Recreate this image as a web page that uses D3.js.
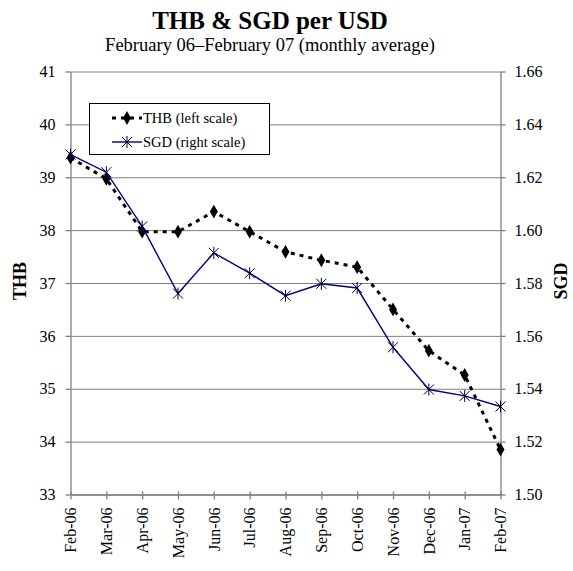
<!DOCTYPE html>
<html><head><meta charset="utf-8">
<script src="https://cdn.jsdelivr.net/npm/d3@7/dist/d3.min.js"></script>
<style>
body{margin:0;background:#fff;}
svg text{font-family:"Liberation Serif","Times New Roman",serif;fill:#000;}
</style></head>
<body><svg id="c" width="573" height="571" font-family="Liberation Serif, serif"></svg>
<script>
const months = ["Feb-06","Mar-06","Apr-06","May-06","Jun-06","Jul-06","Aug-06","Sep-06","Oct-06","Nov-06","Dec-06","Jan-07","Feb-07"];
const thb = [39.37,38.97,37.97,37.97,38.35,37.97,37.59,37.43,37.30,36.50,35.72,35.26,33.85];
const sgd = [1.6286,1.6219,1.6014,1.5760,1.5914,1.5837,1.5752,1.5797,1.5781,1.5557,1.5397,1.5373,1.5333];
const thbTicks = [33,34,35,36,37,38,39,40,41];
const sgdTicks = [1.50,1.52,1.54,1.56,1.58,1.60,1.62,1.64,1.66];

const svg = d3.select("#c");
const L=70.5, R=500.5, T=71.5, B=494.5;
const x = d3.scalePoint().domain(months).range([L,R]);
const yL = d3.scaleLinear().domain([33,41]).range([B,T]);
const yR = d3.scaleLinear().domain([1.50,1.66]).range([B,T]);

// title
svg.append("text").attr("x",270).attr("y",29).attr("text-anchor","middle")
  .style("font-size","25px").style("font-weight","bold").text("THB & SGD per USD");
svg.append("text").attr("x",270).attr("y",51).attr("text-anchor","middle")
  .style("font-size","18.5px").text("February 06\u2013February 07 (monthly average)");

// gridlines
const grid = svg.append("g").attr("transform",`translate(${L},0)`)
  .call(d3.axisLeft(yL).tickValues(thbTicks).tickSize(-(R-L)).tickFormat(""));
grid.select(".domain").remove();
grid.selectAll("line").attr("stroke","#808080").attr("stroke-width",1);

// axes
function style(g){
  g.attr("font-family",null).attr("font-size",null);
  g.select(".domain").attr("stroke","#808080").attr("stroke-width",1.3);
  g.selectAll(".tick line").attr("stroke","#808080").attr("stroke-width",1.3);
  g.selectAll("text").style("font-size","16px").attr("fill","#000");
}
const ax = svg.append("g").attr("transform",`translate(${L},0)`)
  .call(d3.axisLeft(yL).tickValues(thbTicks).tickSize(5).tickSizeOuter(0).tickPadding(10).tickFormat(d3.format("d")));
style(ax);
const ar = svg.append("g").attr("transform",`translate(${R},0)`)
  .call(d3.axisRight(yR).tickValues(sgdTicks).tickSize(5).tickSizeOuter(0).tickPadding(9).tickFormat(d3.format(".2f")));
style(ar);
const ab = svg.append("g").attr("transform",`translate(0,${B})`)
  .call(d3.axisBottom(x).tickSize(5).tickSizeOuter(0));
style(ab);
ab.selectAll(".tick line").attr("y1",-3);
ab.selectAll("text").attr("transform","rotate(-90)").attr("text-anchor","end")
  .attr("x",-13).attr("y",0).attr("dy","0.33em");

// axis titles
svg.append("text").attr("transform","translate(26,281) rotate(-90)").attr("text-anchor","middle")
  .style("font-size","18px").style("font-weight","bold").text("THB");
svg.append("text").attr("transform","translate(567,281) rotate(-90)").attr("text-anchor","middle")
  .style("font-size","18px").style("font-weight","bold").text("SGD");

// THB series
const lineL = d3.line().x((d,i)=>x(months[i])).y(d=>yL(d));
svg.append("path").datum(thb).attr("d",lineL).attr("fill","none")
  .attr("stroke","#000").attr("stroke-width",3).attr("stroke-dasharray","4,5");
const diamond = d3.symbol().type(d3.symbolDiamond).size(55);
svg.selectAll(".dm").data(thb).join("path").attr("class","dm")
  .attr("transform",(d,i)=>`translate(${x(months[i])},${yL(d)})`).attr("d",diamond).attr("fill","#000");

// SGD series
const lineR = d3.line().x((d,i)=>x(months[i])).y(d=>yR(d));
svg.append("path").datum(sgd).attr("d",lineR).attr("fill","none")
  .attr("stroke","#000080").attr("stroke-width",1.4);
function star(g){
  g.append("path").attr("d","M-5,-5L5,5M-5,5L5,-5M0,-6L0,6").attr("stroke","#000030").attr("stroke-width",1).attr("fill","none");
}
svg.selectAll(".st").data(sgd).join("g").attr("class","st")
  .attr("transform",(d,i)=>`translate(${x(months[i])},${yR(d)})`).each(function(){star(d3.select(this));});

// legend
const lg = svg.append("g");
lg.append("rect").attr("x",89.5).attr("y",103.5).attr("width",180).attr("height",51)
  .attr("fill","#fff").attr("stroke","#000").attr("stroke-width",1);
lg.append("line").attr("x1",112).attr("x2",142).attr("y1",118).attr("y2",118)
  .attr("stroke","#000").attr("stroke-width",3).attr("stroke-dasharray","4,5");
lg.append("path").attr("transform","translate(127,118)").attr("d",diamond).attr("fill","#000");
lg.append("text").attr("x",143).attr("y",123).style("font-size","14.5px").text("THB (left scale)");
lg.append("line").attr("x1",112).attr("x2",142).attr("y1",142).attr("y2",142)
  .attr("stroke","#000080").attr("stroke-width",1.4);
const lgs = lg.append("g").attr("transform","translate(127,142)"); star(lgs);
lg.append("text").attr("x",143).attr("y",147).style("font-size","14.5px").text("SGD (right scale)");
</script></body></html>
